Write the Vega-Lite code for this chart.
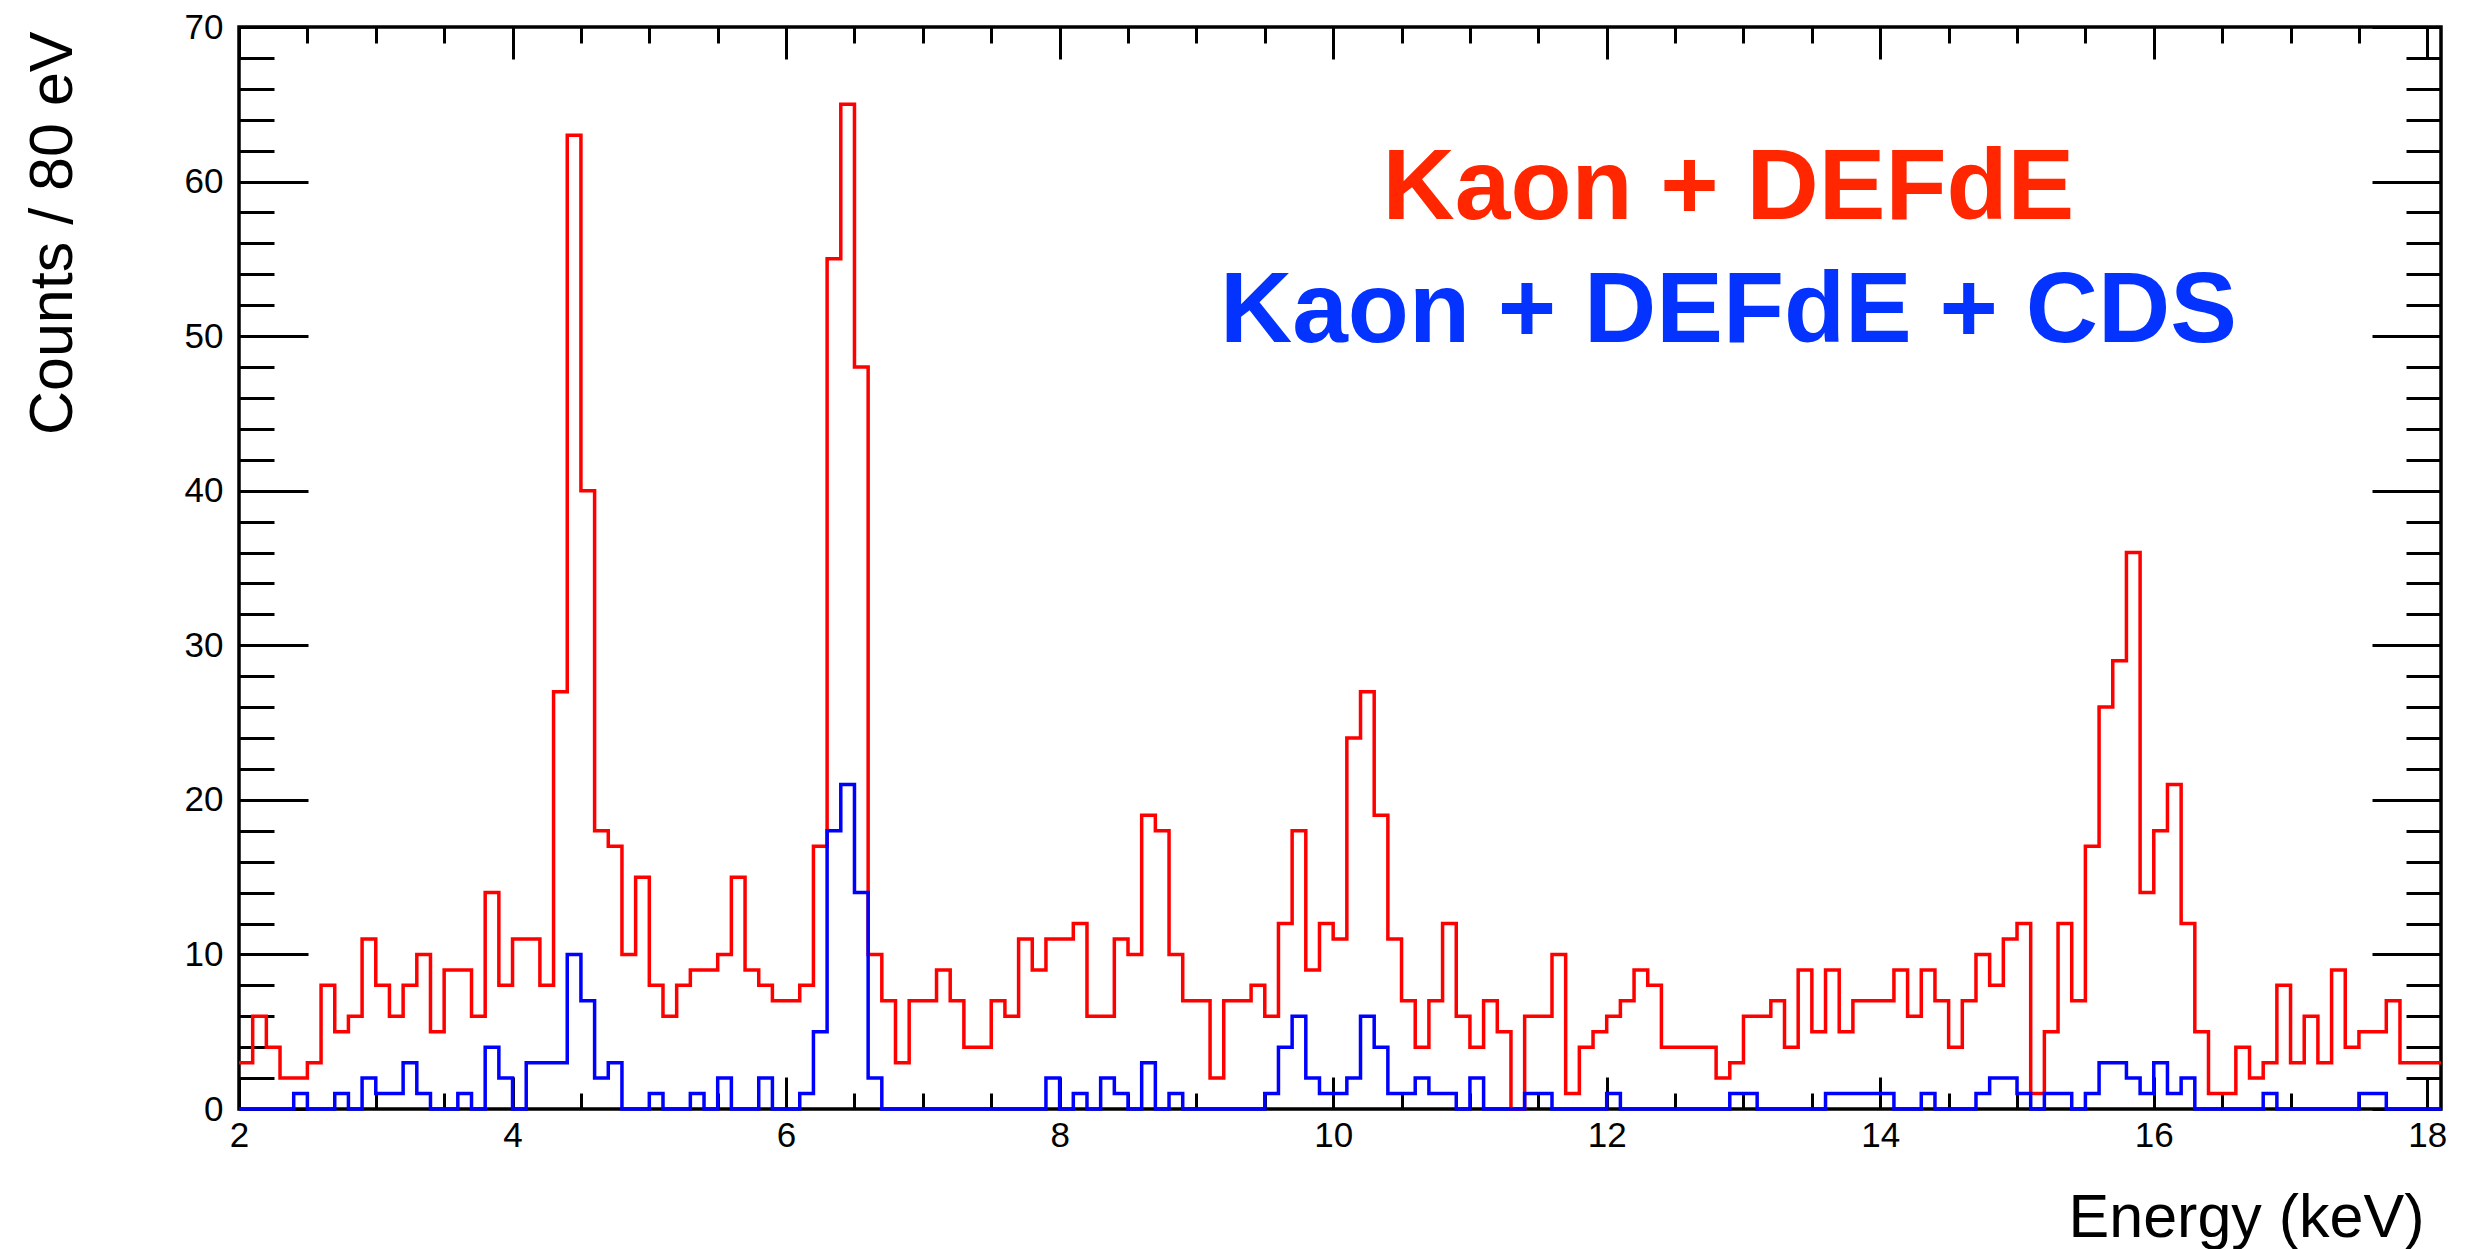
{
  "$schema": "https://vega.github.io/schema/vega-lite/v6.json",
  "width": 2202,
  "height": 1082,
  "autosize": {"type": "none"},
  "padding": {"left": 239, "top": 27, "right": 35, "bottom": 140},
  "background": "white",
  "config": {
    "view": {"stroke": "black", "strokeWidth": 3.5},
    "axis": {
      "grid": false,
      "labelFont": "Liberation Sans",
      "titleFont": "Liberation Sans",
      "labelColor": "black",
      "titleColor": "black",
      "tickColor": "black",
      "tickWidth": 3,
      "labelFontSize": 35,
      "titleFontSize": 61,
      "titleFontWeight": "normal",
      "labelFlush": false,
      "labelOverlap": false,
      "labelBound": false,
      "domain": false
    }
  },
  "data": {"values": [
    {"E":2.0,"kd":3,"cds":0},{"E":2.1,"kd":6,"cds":0},{"E":2.2,"kd":4,"cds":0},{"E":2.3,"kd":2,"cds":0},{"E":2.4,"kd":2,"cds":1},
    {"E":2.5,"kd":3,"cds":0},{"E":2.6,"kd":8,"cds":0},{"E":2.7,"kd":5,"cds":1},{"E":2.8,"kd":6,"cds":0},{"E":2.9,"kd":11,"cds":2},
    {"E":3.0,"kd":8,"cds":1},{"E":3.1,"kd":6,"cds":1},{"E":3.2,"kd":8,"cds":3},{"E":3.3,"kd":10,"cds":1},{"E":3.4,"kd":5,"cds":0},
    {"E":3.5,"kd":9,"cds":0},{"E":3.6,"kd":9,"cds":1},{"E":3.7,"kd":6,"cds":0},{"E":3.8,"kd":14,"cds":4},{"E":3.9,"kd":8,"cds":2},
    {"E":4.0,"kd":11,"cds":0},{"E":4.1,"kd":11,"cds":3},{"E":4.2,"kd":8,"cds":3},{"E":4.3,"kd":27,"cds":3},{"E":4.4,"kd":63,"cds":10},
    {"E":4.5,"kd":40,"cds":7},{"E":4.6,"kd":18,"cds":2},{"E":4.7,"kd":17,"cds":3},{"E":4.8,"kd":10,"cds":0},{"E":4.9,"kd":15,"cds":0},
    {"E":5.0,"kd":8,"cds":1},{"E":5.1,"kd":6,"cds":0},{"E":5.2,"kd":8,"cds":0},{"E":5.3,"kd":9,"cds":1},{"E":5.4,"kd":9,"cds":0},
    {"E":5.5,"kd":10,"cds":2},{"E":5.6,"kd":15,"cds":0},{"E":5.7,"kd":9,"cds":0},{"E":5.8,"kd":8,"cds":2},{"E":5.9,"kd":7,"cds":0},
    {"E":6.0,"kd":7,"cds":0},{"E":6.1,"kd":8,"cds":1},{"E":6.2,"kd":17,"cds":5},{"E":6.3,"kd":55,"cds":18},{"E":6.4,"kd":65,"cds":21},
    {"E":6.5,"kd":48,"cds":14},{"E":6.6,"kd":10,"cds":2},{"E":6.7,"kd":7,"cds":0},{"E":6.8,"kd":3,"cds":0},{"E":6.9,"kd":7,"cds":0},
    {"E":7.0,"kd":7,"cds":0},{"E":7.1,"kd":9,"cds":0},{"E":7.2,"kd":7,"cds":0},{"E":7.3,"kd":4,"cds":0},{"E":7.4,"kd":4,"cds":0},
    {"E":7.5,"kd":7,"cds":0},{"E":7.6,"kd":6,"cds":0},{"E":7.7,"kd":11,"cds":0},{"E":7.8,"kd":9,"cds":0},{"E":7.9,"kd":11,"cds":2},
    {"E":8.0,"kd":11,"cds":0},{"E":8.1,"kd":12,"cds":1},{"E":8.2,"kd":6,"cds":0},{"E":8.3,"kd":6,"cds":2},{"E":8.4,"kd":11,"cds":1},
    {"E":8.5,"kd":10,"cds":0},{"E":8.6,"kd":19,"cds":3},{"E":8.7,"kd":18,"cds":0},{"E":8.8,"kd":10,"cds":1},{"E":8.9,"kd":7,"cds":0},
    {"E":9.0,"kd":7,"cds":0},{"E":9.1,"kd":2,"cds":0},{"E":9.2,"kd":7,"cds":0},{"E":9.3,"kd":7,"cds":0},{"E":9.4,"kd":8,"cds":0},
    {"E":9.5,"kd":6,"cds":1},{"E":9.6,"kd":12,"cds":4},{"E":9.7,"kd":18,"cds":6},{"E":9.8,"kd":9,"cds":2},{"E":9.9,"kd":12,"cds":1},
    {"E":10.0,"kd":11,"cds":1},{"E":10.1,"kd":24,"cds":2},{"E":10.2,"kd":27,"cds":6},{"E":10.3,"kd":19,"cds":4},{"E":10.4,"kd":11,"cds":1},
    {"E":10.5,"kd":7,"cds":1},{"E":10.6,"kd":4,"cds":2},{"E":10.7,"kd":7,"cds":1},{"E":10.8,"kd":12,"cds":1},{"E":10.9,"kd":6,"cds":0},
    {"E":11.0,"kd":4,"cds":2},{"E":11.1,"kd":7,"cds":0},{"E":11.2,"kd":5,"cds":0},{"E":11.3,"kd":0,"cds":0},{"E":11.4,"kd":6,"cds":1},
    {"E":11.5,"kd":6,"cds":1},{"E":11.6,"kd":10,"cds":0},{"E":11.7,"kd":1,"cds":0},{"E":11.8,"kd":4,"cds":0},{"E":11.9,"kd":5,"cds":0},
    {"E":12.0,"kd":6,"cds":1},{"E":12.1,"kd":7,"cds":0},{"E":12.2,"kd":9,"cds":0},{"E":12.3,"kd":8,"cds":0},{"E":12.4,"kd":4,"cds":0},
    {"E":12.5,"kd":4,"cds":0},{"E":12.6,"kd":4,"cds":0},{"E":12.7,"kd":4,"cds":0},{"E":12.8,"kd":2,"cds":0},{"E":12.9,"kd":3,"cds":1},
    {"E":13.0,"kd":6,"cds":1},{"E":13.1,"kd":6,"cds":0},{"E":13.2,"kd":7,"cds":0},{"E":13.3,"kd":4,"cds":0},{"E":13.4,"kd":9,"cds":0},
    {"E":13.5,"kd":5,"cds":0},{"E":13.6,"kd":9,"cds":1},{"E":13.7,"kd":5,"cds":1},{"E":13.8,"kd":7,"cds":1},{"E":13.9,"kd":7,"cds":1},
    {"E":14.0,"kd":7,"cds":1},{"E":14.1,"kd":9,"cds":0},{"E":14.2,"kd":6,"cds":0},{"E":14.3,"kd":9,"cds":1},{"E":14.4,"kd":7,"cds":0},
    {"E":14.5,"kd":4,"cds":0},{"E":14.6,"kd":7,"cds":0},{"E":14.7,"kd":10,"cds":1},{"E":14.8,"kd":8,"cds":2},{"E":14.9,"kd":11,"cds":2},
    {"E":15.0,"kd":12,"cds":1},{"E":15.1,"kd":1,"cds":0},{"E":15.2,"kd":5,"cds":1},{"E":15.3,"kd":12,"cds":1},{"E":15.4,"kd":7,"cds":0},
    {"E":15.5,"kd":17,"cds":1},{"E":15.6,"kd":26,"cds":3},{"E":15.7,"kd":29,"cds":3},{"E":15.8,"kd":36,"cds":2},{"E":15.9,"kd":14,"cds":1},
    {"E":16.0,"kd":18,"cds":3},{"E":16.1,"kd":21,"cds":1},{"E":16.2,"kd":12,"cds":2},{"E":16.3,"kd":5,"cds":0},{"E":16.4,"kd":1,"cds":0},
    {"E":16.5,"kd":1,"cds":0},{"E":16.6,"kd":4,"cds":0},{"E":16.7,"kd":2,"cds":0},{"E":16.8,"kd":3,"cds":1},{"E":16.9,"kd":8,"cds":0},
    {"E":17.0,"kd":3,"cds":0},{"E":17.1,"kd":6,"cds":0},{"E":17.2,"kd":3,"cds":0},{"E":17.3,"kd":9,"cds":0},{"E":17.4,"kd":4,"cds":0},
    {"E":17.5,"kd":5,"cds":1},{"E":17.6,"kd":5,"cds":1},{"E":17.7,"kd":7,"cds":0},{"E":17.8,"kd":3,"cds":0},{"E":17.9,"kd":3,"cds":0},
    {"E":18.0,"kd":3,"cds":0},{"E":18.1,"kd":3,"cds":0}
  ]},
  "resolve": {"axis": {"x": "independent", "y": "independent"}},
  "layer": [
    {
      "mark": {"type": "line", "interpolate": "step-after", "color": "#FF0000", "strokeWidth": 3.5},
      "encoding": {
        "x": {"field": "E", "type": "quantitative",
          "scale": {"domain": [2, 18.1], "nice": false, "zero": false},
          "axis": {"orient": "bottom", "values": [2,4,6,8,10,12,14,16,18], "ticks": false, "labelPadding": 9,
            "title": "Energy (keV)", "titleX": 2185, "titleY": 127, "titleAlign": "right", "titleBaseline": "alphabetic", "titleAngle": 0}},
        "y": {"field": "kd", "type": "quantitative",
          "scale": {"domain": [0, 70], "nice": false, "zero": true},
          "axis": {"orient": "left", "values": [0,10,20,30,40,50,60,70], "ticks": false, "labelPadding": 16,
            "title": "Counts / 80 eV", "titleAngle": -90, "titleX": -168, "titleY": 4, "titleAlign": "right", "titleBaseline": "alphabetic"}}
      }
    },
    {
      "mark": {"type": "line", "interpolate": "step-after", "color": "#0000FF", "strokeWidth": 3.5},
      "encoding": {
        "x": {"field": "E", "type": "quantitative",
          "axis": {"orient": "bottom", "values": [2,4,6,8,10,12,14,16,18], "tickSize": -32, "labels": false, "title": null}},
        "y": {"field": "cds", "type": "quantitative",
          "axis": {"orient": "left", "values": [0,10,20,30,40,50,60,70], "tickSize": -69, "labels": false, "title": null}}
      }
    },
    {
      "mark": {"type": "line", "opacity": 0},
      "encoding": {
        "x": {"field": "E", "type": "quantitative",
          "axis": {"orient": "bottom", "values": [2.5,3,3.5,4.5,5,5.5,6.5,7,7.5,8.5,9,9.5,10.5,11,11.5,12.5,13,13.5,14.5,15,15.5,16.5,17,17.5], "tickSize": -16, "labels": false, "title": null}},
        "y": {"field": "kd", "type": "quantitative",
          "axis": {"orient": "left", "values": [2,4,6,8,12,14,16,18,22,24,26,28,32,34,36,38,42,44,46,48,52,54,56,58,62,64,66,68], "tickSize": -35, "labels": false, "title": null}}
      }
    },
    {
      "mark": {"type": "line", "opacity": 0},
      "encoding": {
        "x": {"field": "E", "type": "quantitative",
          "axis": {"orient": "top", "values": [2,4,6,8,10,12,14,16,18], "tickSize": -32, "labels": false, "title": null}},
        "y": {"field": "kd", "type": "quantitative",
          "axis": {"orient": "right", "values": [0,10,20,30,40,50,60,70], "tickSize": -69, "labels": false, "title": null}}
      }
    },
    {
      "mark": {"type": "line", "opacity": 0},
      "encoding": {
        "x": {"field": "E", "type": "quantitative",
          "axis": {"orient": "top", "values": [2.5,3,3.5,4.5,5,5.5,6.5,7,7.5,8.5,9,9.5,10.5,11,11.5,12.5,13,13.5,14.5,15,15.5,16.5,17,17.5], "tickSize": -16, "labels": false, "title": null}},
        "y": {"field": "kd", "type": "quantitative",
          "axis": {"orient": "right", "values": [2,4,6,8,12,14,16,18,22,24,26,28,32,34,36,38,42,44,46,48,52,54,56,58,62,64,66,68], "tickSize": -35, "labels": false, "title": null}}
      }
    },
    {
      "data": {"values": [{"t": "Kaon + DEFdE"}]},
      "mark": {"type": "text", "font": "Liberation Sans", "fontWeight": "bold", "fontSize": 100, "align": "center", "baseline": "alphabetic", "color": "#FF2600"},
      "encoding": {
        "x": {"datum": 12.89, "type": "quantitative", "axis": null},
        "y": {"datum": 57.55, "type": "quantitative", "axis": null},
        "text": {"field": "t"}
      }
    },
    {
      "data": {"values": [{"t": "Kaon + DEFdE + CDS"}]},
      "mark": {"type": "text", "font": "Liberation Sans", "fontWeight": "bold", "fontSize": 100, "align": "center", "baseline": "alphabetic", "color": "#0433FF"},
      "encoding": {
        "x": {"datum": 12.89, "type": "quantitative", "axis": null},
        "y": {"datum": 49.6, "type": "quantitative", "axis": null},
        "text": {"field": "t"}
      }
    }
  ]
}
